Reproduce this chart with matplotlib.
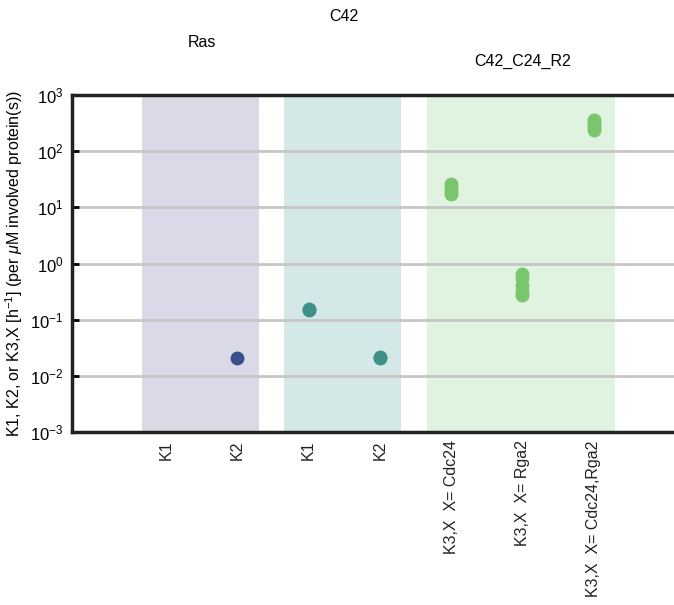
import numpy as np
import matplotlib.pyplot as plt

plt.rcParams['font.family'] = ['Liberation Sans', 'DejaVu Sans']
plt.rcParams['mathtext.fontset'] = 'custom'
plt.rcParams['mathtext.rm'] = 'Liberation Sans'
plt.rcParams['mathtext.it'] = 'Liberation Sans:italic'

# rate constants per parameter (h^-1 per uM involved protein)
tick_labels = ["K1", "K2", "K1", "K2",
               "K3,X  X= Cdc24", "K3,X  X= Rga2", "K3,X  X= Cdc24,Rga2"]
groups = ["Ras", "C42", "C42_C24_R2"]
group_members = [[1, 2], [3, 4], [5, 6, 7]]
group_label_y = [0.930, 0.972, 0.898]  # staggered header heights (figure coords)

ras_pos = [2]
ras_vals = [[0.021]]
c42_pos = [3, 4]
c42_vals = [[0.15, 0.155], [0.021, 0.022]]
c24r2_pos = [5, 6, 7]
c24r2_vals = [[17.5, 19.5, 22.0, 25.5],
              [0.28, 0.33, 0.42, 0.55, 0.66],
              [235, 270, 310, 360]]

marker_colors = ["#3b4f8c", "#3d9189", "#79c66d"]
span_colors = ["#d9d9e8", "#d4e8e8", "#e0f2e0"]

fig = plt.figure(figsize=(6.74, 6.05), dpi=100)
ax = fig.add_axes([72 / 674, 1 - 432 / 605, 610 / 674, 337 / 605])

ax.set_yscale('log')
ax.set_ylim(1e-3, 1e3)
ax.set_xlim(-0.32, 8.24)

# shaded column per protein group
for members, col in zip(group_members, span_colors):
    ax.axvspan(members[0] - 0.34, members[-1] + 0.3, color=col, lw=0, zorder=0)

ax.yaxis.grid(True, which='major', color='#c6c6c6', lw=2, zorder=1)
ax.set_axisbelow(True)

for positions, vals, col in [(ras_pos, ras_vals, marker_colors[0]),
                             (c42_pos, c42_vals, marker_colors[1]),
                             (c24r2_pos, c24r2_vals, marker_colors[2])]:
    for p, v in zip(positions, vals):
        ax.plot([p] * len(v), v, 'o', ms=10, color=col, mec='none', zorder=3)

ax.set_xticks(range(1, len(tick_labels) + 1))
ax.set_xticklabels(tick_labels, rotation=90, fontsize=11.5, color='#222222')
ax.tick_params(axis='x', length=0, pad=6)
ax.set_yticks([1e-3, 1e-2, 1e-1, 1e0, 1e1, 1e2, 1e3])
ax.tick_params(axis='y', which='major', direction='in', length=5, width=2,
               labelsize=12, pad=6)
ax.tick_params(axis='y', which='minor', length=0)

for side in ['left', 'top', 'bottom']:
    ax.spines[side].set_linewidth(2.5)
    ax.spines[side].set_color('#222222')
ax.spines['right'].set_visible(False)

ax.set_ylabel(r"K1, K2, or K3,X [h$^{-1}$] (per $\mu$M involved protein(s))",
              fontsize=11.5, labelpad=4)

for name, members, y in zip(groups, group_members, group_label_y):
    xc = np.mean(members) if len(members) == 2 else members[1]
    xf = ax.transData.transform((xc, 1))[0] / fig.bbox.width
    fig.text(xf, y, name, ha='center', va='center', fontsize=11.5)

fig.savefig("out.png", dpi=100)
